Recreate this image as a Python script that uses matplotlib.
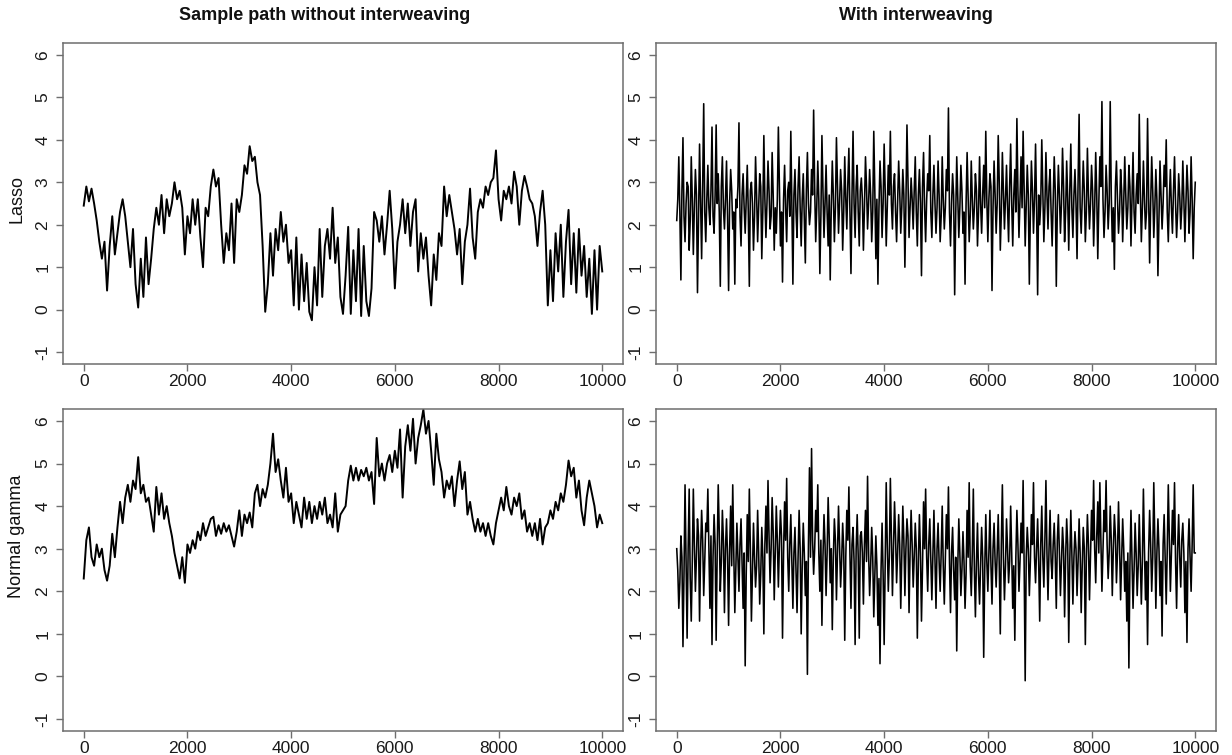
import numpy as np
import matplotlib
matplotlib.use("Agg")
import matplotlib.pyplot as plt

plt.rcParams['font.family'] = ['Liberation Sans', 'DejaVu Sans']

# ---------------- data ----------------
col_titles = ["Sample path without interweaving", "With interweaving"]
row_labels = ["Lasso", "Normal gamma"]
x_ticks = [0, 2000, 4000, 6000, 8000, 10000]
y_ticks = [-1, 0, 1, 2, 3, 4, 5, 6]
n_iter = 10000

# Lasso, no interweaving (every 50 iterations)
lasso_plain = [
    2.45, 2.9, 2.55, 2.85, 2.5, 2.1, 1.6, 1.2, 1.6, 0.45, 1.5, 2.2, 1.3, 1.8, 2.3, 2.6, 2.2, 1.6, 1.0, 1.9,
    0.6, 0.05, 1.2, 0.3, 1.7, 0.6, 1.2, 1.9, 2.4, 2.0, 2.7, 1.8, 2.6, 2.2, 2.5, 3.0, 2.6, 2.8, 2.4, 1.3,
    2.2, 1.8, 2.6, 2.0, 2.6, 1.7, 1.0, 2.4, 2.2, 2.9, 3.3, 2.9, 3.1, 2.0, 1.1, 1.8, 1.4, 2.5, 1.1, 2.6,
    2.3, 2.7, 3.4, 3.2, 3.85, 3.5, 3.6, 3.0, 2.7, 1.5, -0.05, 0.6, 1.8, 0.8, 1.9, 1.4, 2.3, 1.6, 2.0, 1.1,
    1.4, 0.1, 1.7, 0.0, 1.3, 0.2, 1.1, -0.05, -0.25, 1.0, 0.1, 1.9, 0.3, 1.5, 1.9, 1.2, 2.4, 1.1, 1.7, 0.3,
    -0.1, 0.8, 1.95, -0.1, 1.4, 0.2, 1.9, -0.15, 1.5, 0.2, -0.15, 0.5, 2.3, 2.1, 1.6, 2.2, 1.3, 2.0, 2.8, 1.9,
    0.5, 1.6, 2.0, 2.6, 1.8, 2.5, 1.5, 2.3, 2.6, 0.9, 1.8, 1.2, 1.7, 0.8, 0.1, 1.3, 0.7, 1.8, 1.5, 2.9,
    2.2, 2.7, 2.3, 1.9, 1.3, 1.9, 0.6, 1.6, 2.0, 2.85, 1.7, 1.2, 2.3, 2.6, 2.4, 2.9, 2.7, 3.0, 3.1, 3.75,
    2.6, 2.1, 2.8, 2.6, 2.9, 2.5, 3.25, 2.9, 2.0, 2.8, 3.15, 2.9, 2.6, 2.5, 2.2, 1.5, 2.3, 2.8, 2.0, 0.1,
    1.4, 0.2, 1.8, 0.9, 2.0, 0.3, 1.6, 2.35, 0.6, 1.8, 0.4, 1.9, 0.8, 1.5, 0.3, 1.2, -0.1, 1.4, 0.0, 1.5,
    0.9,
]

# Normal gamma, no interweaving (every 50 iterations)
ng_plain = [
    2.3, 3.2, 3.5, 2.8, 2.6, 3.1, 2.8, 3.0, 2.5, 2.25, 2.6, 3.35, 2.8, 3.5, 4.1, 3.6, 4.2, 4.5, 4.1, 4.6,
    4.4, 5.15, 4.3, 4.5, 4.1, 4.2, 3.8, 3.4, 4.45, 3.8, 4.3, 3.7, 4.0, 3.6, 3.3, 2.9, 2.6, 2.3, 2.8, 2.2,
    3.1, 2.9, 3.2, 3.0, 3.4, 3.2, 3.6, 3.3, 3.5, 3.7, 3.75, 3.3, 3.55, 3.35, 3.6, 3.4, 3.55, 3.3, 3.05, 3.4,
    3.9, 3.3, 3.8, 3.6, 3.85, 3.5, 4.3, 4.5, 4.0, 4.4, 4.2, 4.5, 5.0, 5.7, 4.8, 5.1, 4.6, 4.2, 4.9, 4.1,
    4.3, 3.6, 4.1, 3.8, 3.5, 4.2, 3.7, 4.1, 3.6, 4.0, 3.7, 4.1, 3.8, 4.2, 3.6, 3.8, 3.5, 4.3, 3.4, 3.8,
    3.9, 4.0, 4.6, 4.95, 4.6, 4.9, 4.6, 4.85, 4.7, 4.9, 4.6, 4.8, 4.05, 5.6, 4.7, 5.0, 4.6, 5.0, 5.2, 4.8,
    5.3, 4.9, 5.8, 4.2, 5.4, 5.9, 5.3, 6.05, 5.0, 5.6, 5.9, 6.27, 5.7, 6.0, 5.3, 4.5, 5.7, 5.1, 4.8, 4.2,
    4.6, 4.4, 4.7, 4.0, 4.6, 5.05, 4.4, 4.8, 3.8, 4.1, 3.7, 3.4, 3.7, 3.4, 3.6, 3.3, 3.6, 3.3, 3.1, 3.6,
    3.9, 4.2, 3.9, 4.45, 4.0, 3.8, 4.2, 4.0, 4.3, 3.7, 3.9, 3.4, 3.6, 3.3, 3.6, 3.2, 3.7, 3.1, 3.5, 3.6,
    3.9, 3.7, 4.1, 3.9, 4.3, 4.1, 4.5, 5.07, 4.7, 4.9, 4.2, 4.6, 3.9, 3.55, 4.2, 4.6, 4.3, 4.0, 3.5, 3.8,
    3.6,
]

# Lasso, with interweaving: outer excursions (every 40 iterations, from 0)
lasso_inter = [
    2.1, 3.6, 0.7, 4.05, 1.6, 3.0, 1.4, 3.6, 1.3, 3.3, 0.4, 3.9, 1.2, 4.85, 1.6, 3.4, 2.0, 4.3, 1.8, 4.35, 3.2, 0.55, 3.6, 1.9, 3.5,
    0.45, 3.3, 1.9, 0.6, 2.4, 4.4, 1.5, 3.2, 1.8, 3.4, 0.55, 3.0, 1.4, 3.6, 1.6, 3.2, 1.2, 4.1, 1.7, 3.5, 1.9, 3.7, 1.4, 1.8, 4.3,
    1.5, 0.65, 3.4, 1.6, 3.0, 4.2, 0.6, 3.3, 1.7, 3.6, 1.5, 3.2, 1.1, 3.7, 2.0, 3.3, 4.7, 1.6, 3.5, 0.85, 4.1, 1.7, 3.4, 1.5, 0.7,
    3.5, 1.6, 4.05, 1.8, 3.3, 1.4, 3.6, 1.9, 3.8, 0.85, 4.2, 1.7, 3.4, 1.5, 3.1, 1.4, 3.6, 1.9, 3.3, 1.6, 4.2, 1.2, 0.6, 3.5, 1.7,
    3.9, 1.5, 3.4, 4.2, 1.9, 3.2, 1.6, 3.5, 1.8, 3.3, 1.0, 4.35, 1.7, 3.1, 1.9, 3.6, 1.5, 3.3, 0.8, 3.7, 1.6, 3.2, 4.1, 1.7, 3.4,
    1.8, 3.5, 1.6, 3.6, 1.9, 3.3, 4.75, 1.5, 3.2, 0.35, 3.6, 1.7, 3.4, 1.8, 0.6, 3.7, 1.6, 3.5, 1.9, 3.2, 1.5, 3.6, 1.8, 3.4, 4.2,
    1.6, 3.2, 0.45, 3.5, 1.8, 4.1, 1.4, 3.7, 1.9, 3.4, 1.6, 3.9, 1.5, 3.3, 4.5, 1.7, 3.6, 4.2, 1.5, 3.4, 0.6, 3.5, 1.8, 3.9, 0.35,
    2.0, 4.0, 1.6, 3.7, 1.9, 3.3, 1.5, 3.6, 0.55, 3.4, 1.8, 3.8, 1.6, 3.5, 1.4, 3.9, 1.7, 3.3, 1.2, 4.6, 1.8, 3.5, 1.6, 3.8, 1.9,
    3.4, 1.5, 3.7, 1.2, 3.6, 4.9, 1.7, 3.4, 1.9, 4.9, 1.6, 0.95, 3.5, 1.8, 3.3, 1.6, 3.6, 1.9, 3.4, 1.5, 3.7, 1.8, 3.2, 4.6, 1.6,
    3.5, 1.9, 4.5, 1.1, 3.6, 1.7, 3.3, 0.8, 3.5, 1.9, 3.4, 4.0, 1.6, 3.3, 1.8, 3.6, 1.7, 3.2, 1.9, 3.5, 1.6, 3.4, 1.8, 3.6, 1.2,
    3.0,
]
# Lasso, with interweaving: dense core values (every 40 iterations, from 20)
lasso_inter_core = [
    2.6, 2.3, 2.8, 2.2, 2.5, 2.9, 2.1, 2.6, 2.4, 2.7, 2.2, 2.5, 2.9, 2.3, 2.6, 2.4, 2.8, 2.2, 2.7, 2.5, 2.3, 2.9, 2.4, 2.6, 2.2,
    2.5, 2.8, 2.3, 2.6, 2.9, 2.2, 2.7, 2.4, 2.6, 2.3, 2.8, 2.5, 2.2, 2.7, 2.4, 2.9, 2.3, 2.6, 2.5, 2.8, 2.2, 2.7, 2.4, 2.6, 2.9,
    2.3, 2.6, 2.4, 2.8, 2.2, 2.5, 2.7, 2.3, 2.9, 2.4, 2.6, 2.2, 2.8, 2.5, 2.3, 2.7, 2.9, 2.4, 2.6, 2.2, 2.8, 2.5, 2.3, 2.7, 2.4,
    2.7, 2.4, 2.9, 2.5, 2.8, 2.3, 2.6, 3.0, 2.4, 2.7, 2.5, 2.9, 2.3, 2.8, 2.6, 2.4, 2.9, 2.5, 2.7, 2.3, 2.8, 2.6, 2.4, 2.9, 2.5,
    2.8, 2.4, 2.7, 2.5, 2.9, 2.3, 2.6, 2.8, 2.4, 2.7, 2.5, 3.0, 2.4, 2.6, 2.8, 2.3, 2.7, 2.5, 2.9, 2.4, 2.6, 2.8, 2.3, 2.7, 2.5,
    2.4, 2.7, 2.2, 2.6, 2.4, 2.8, 2.3, 2.5, 2.7, 2.2, 2.6, 2.4, 2.8, 2.3, 2.5, 2.7, 2.2, 2.6, 2.4, 2.8, 2.3, 2.5, 2.7, 2.4, 2.6,
    2.6, 2.9, 2.4, 2.7, 2.5, 3.0, 2.3, 2.8, 2.6, 2.4, 2.9, 2.5, 2.7, 2.3, 2.8, 2.6, 2.4, 2.9, 2.5, 2.7, 2.3, 2.8, 2.6, 2.4, 2.7,
    2.5, 2.8, 2.4, 2.7, 2.9, 2.3, 2.6, 2.8, 2.4, 2.7, 2.5, 2.9, 2.3, 2.6, 2.8, 2.4, 2.7, 2.5, 3.0, 2.4, 2.6, 2.8, 2.3, 2.7, 2.5,
    2.8, 2.4, 2.7, 2.5, 2.9, 2.6, 2.3, 2.8, 2.5, 2.7, 2.4, 2.9, 2.6, 2.3, 2.8, 2.5, 2.7, 2.4, 2.9, 2.6, 2.3, 2.7, 2.5, 2.8, 2.4,
    2.6, 2.3, 2.7, 2.5, 2.8, 2.4, 2.6, 2.2, 2.7, 2.5, 2.9, 2.3, 2.6, 2.4, 2.8, 2.5, 2.3, 2.7, 2.4, 2.6, 2.5, 2.8, 2.3, 2.6, 2.4,
]

# Normal gamma, with interweaving: outer excursions (every 40 iterations, from 0)
ng_inter = [
    3.0, 1.6, 3.3, 0.7, 4.5, 0.9, 4.4, 1.3, 4.4, 2.0, 3.7, 1.3, 3.9, 1.9, 3.6, 4.4, 1.6, 0.75, 3.8, 0.85, 4.5, 2.0, 3.9, 1.5, 3.7,
    1.2, 4.0, 4.5, 1.5, 3.6, 2.0, 3.7, 1.6, 0.25, 3.8, 4.4, 1.3, 3.6, 2.1, 3.9, 1.7, 3.5, 1.0, 4.0, 4.6, 2.2, 4.2, 1.8, 4.0, 2.1,
    3.9, 0.9, 4.1, 4.65, 2.0, 3.8, 1.6, 3.5, 1.5, 3.9, 1.0, 3.6, 1.9, 0.05, 4.9, 5.35, 2.4, 3.9, 4.5, 2.0, 1.2, 3.8, 1.9, 4.2, 2.2,
    1.1, 3.7, 1.8, 4.0, 2.1, 3.6, 0.85, 3.9, 4.45, 1.6, 3.5, 0.75, 3.8, 0.9, 3.4, 1.7, 3.9, 4.7, 1.9, 3.5, 1.4, 3.3, 1.2, 0.3, 3.6,
    0.75, 4.55, 2.0, 4.65, 1.9, 4.1, 2.2, 3.8, 1.6, 4.0, 1.9, 3.7, 1.5, 3.9, 2.1, 3.6, 0.9, 3.8, 1.3, 4.1, 4.4, 2.0, 3.7, 1.8, 3.9,
    1.6, 3.6, 2.0, 4.0, 1.7, 3.8, 4.45, 1.5, 3.5, 1.8, 0.6, 3.7, 1.9, 3.4, 1.6, 3.9, 4.55, 1.9, 4.4, 1.4, 3.6, 1.7, 3.5, 0.45, 3.8,
    2.0, 3.9, 1.7, 3.6, 2.1, 3.8, 1.0, 4.5, 1.8, 3.7, 2.2, 4.0, 1.6, 0.85, 3.9, 2.0, 3.6, 4.6, -0.1, 3.5, 1.9, 3.8, 4.55, 2.2, 3.7,
    1.3, 4.0, 2.1, 4.6, 1.8, 3.9, 2.3, 3.6, 1.6, 3.8, 1.9, 3.5, 1.4, 3.7, 0.8, 3.9, 1.7, 3.4, 1.9, 3.7, 1.5, 3.5, 0.75, 3.8, 1.8,
    3.9, 4.6, 2.2, 4.1, 4.55, 2.0, 3.9, 4.6, 2.3, 4.0, 1.9, 3.8, 2.2, 4.1, 1.8, 3.7, 2.0, 1.3, 0.2, 3.9, 1.6, 3.6, 1.9, 3.8, 1.7,
    4.4, 1.8, 0.75, 3.9, 2.0, 4.55, 1.6, 3.7, 1.9, 0.95, 3.8, 1.7, 4.5, 2.0, 3.9, 4.55, 1.6, 3.8, 2.1, 3.6, 1.5, 0.8, 3.7, 2.0, 4.5,
    2.9,
]
# Normal gamma, with interweaving: dense core values (every 40 iterations, from 20)
ng_inter_core = [
    2.5, 2.2, 2.8, 2.4, 2.6, 3.0, 2.3, 2.7, 3.1, 2.8, 3.3, 2.9, 3.2, 2.7, 3.4, 3.0, 3.3, 2.8, 3.1, 2.9, 3.4, 2.7, 3.2, 3.0, 2.8,
    3.0, 2.6, 2.9, 2.5, 2.8, 3.1, 2.6, 2.9, 2.4, 2.7, 3.0, 2.5, 2.8, 2.6, 2.9, 2.4, 2.8, 3.1, 2.9, 3.3, 3.0, 3.4, 2.9, 3.2, 3.1,
    3.3, 2.9, 3.2, 2.8, 3.1, 2.7, 2.9, 2.5, 2.8, 3.0, 2.6, 2.9, 2.7, 3.1, 2.8, 3.2, 3.0, 3.4, 2.9, 3.2, 2.8, 3.1, 2.9, 3.3, 3.0,
    2.8, 3.2, 2.9, 3.1, 2.7, 3.0, 2.8, 3.2, 2.9, 3.1, 2.7, 3.0, 2.8, 3.3, 2.9, 3.1, 2.7, 2.9, 2.6, 2.8, 2.4, 2.6, 2.3, 2.5, 2.4,
    2.7, 3.1, 2.8, 3.2, 3.0, 3.3, 2.9, 3.1, 2.8, 3.2, 3.0, 3.3, 2.9, 3.1, 2.8, 3.0, 2.7, 2.9, 2.6, 3.0, 2.8, 3.1, 2.7, 2.9, 2.8,
    3.0, 2.7, 2.9, 2.6, 2.8, 3.0, 2.7, 2.9, 2.5, 2.8, 2.6, 2.9, 2.5, 2.7, 2.4, 2.8, 2.6, 2.9, 2.5, 2.7, 2.4, 2.6, 2.8, 2.5, 2.7,
    2.9, 2.6, 3.0, 2.7, 2.9, 2.6, 3.1, 2.8, 2.6, 3.0, 2.7, 2.9, 2.6, 2.8, 3.1, 2.7, 2.9, 2.6, 2.8, 3.0, 2.7, 3.1, 2.8, 3.0, 2.7,
    3.1, 2.8, 3.2, 2.9, 3.0, 2.7, 3.1, 2.8, 3.2, 2.9, 2.7, 3.0, 2.8, 3.1, 2.7, 2.9, 2.8, 3.0, 2.7, 2.9, 2.6, 3.0, 2.8, 3.1, 2.9,
    3.2, 3.0, 3.3, 2.9, 3.2, 3.0, 3.4, 3.1, 2.9, 3.2, 3.0, 3.3, 2.9, 3.1, 2.8, 3.0, 2.7, 2.9, 2.6, 2.8, 2.5, 2.9, 2.6, 2.8, 2.7,
    3.0, 2.7, 2.9, 3.1, 2.8, 3.2, 2.9, 3.0, 2.7, 3.1, 2.8, 3.0, 3.2, 2.9, 3.1, 2.7, 3.0, 2.8, 3.2, 2.9, 2.7, 3.0, 2.8, 3.1, 2.9,
]


def trace(main, core=None):
    """Merge the read values into one chain ordered by iteration."""
    xm = np.linspace(0, n_iter, len(main))
    ym = np.asarray(main, dtype=float)
    if core is None:
        return xm, ym
    step = n_iter / (len(main) - 1)
    xc = np.linspace(step / 2, n_iter - step / 2, len(core))
    x = np.concatenate([xm, xc])
    y = np.concatenate([ym, np.asarray(core, dtype=float)])
    order = np.argsort(x, kind='stable')
    return x[order], y[order]


series = [[trace(lasso_plain), trace(lasso_inter, lasso_inter_core)],
          [trace(ng_plain), trace(ng_inter, ng_inter_core)]]

# ---------------- figure ----------------
W, H = 1232, 755
fig = plt.figure(figsize=(W / 100, H / 100), dpi=100)

# axes boxes in pixel coords (left, top, right, bottom)
boxes = [[(63, 43, 623, 364), (656, 43, 1216, 364)],
         [(63, 409, 623, 731), (656, 409, 1216, 731)]]

box_col = '#6e6e6e'
for r in range(2):
    for c in range(2):
        l, t, rr, b = boxes[r][c]
        ax = fig.add_axes([l / W, 1 - b / H, (rr - l) / W, (b - t) / H])
        xs, vals = series[r][c]
        lw = 1.4 if c == 0 else 1.15
        ax.plot(xs, vals, color='black', lw=lw)
        ax.set_xlim(-0.04 * n_iter, 1.04 * n_iter)
        ax.set_ylim(-1.28, 6.28)
        ax.set_xticks(x_ticks)
        ax.set_xticklabels([str(v) for v in x_ticks])
        ax.set_yticks(y_ticks)
        ax.set_yticklabels([str(v) for v in y_ticks], rotation=90, va='center')
        ax.tick_params(direction='out', length=5, width=1, color=box_col,
                       labelsize=12.5, labelcolor='#1a1a1a', pad=2)
        ax.tick_params(axis='y', pad=4)
        for s in ax.spines.values():
            s.set_color(box_col)
            s.set_linewidth(1.1)

# column titles
fig.text(325 / W, 1 - 15 / H, col_titles[0], ha='center', va='center',
         fontsize=13, fontweight='bold', color='#111111')
fig.text(916 / W, 1 - 15 / H, col_titles[1], ha='center', va='center',
         fontsize=13, fontweight='bold', color='#111111')

# row labels
fig.text(17 / W, 1 - 199 / H, row_labels[0], ha='center', va='center',
         rotation=90, fontsize=13, color='#111111')
fig.text(17 / W, 1 - 536 / H, row_labels[1], ha='center', va='center',
         rotation=90, fontsize=13, color='#111111')

fig.savefig('out.png', dpi=100)
